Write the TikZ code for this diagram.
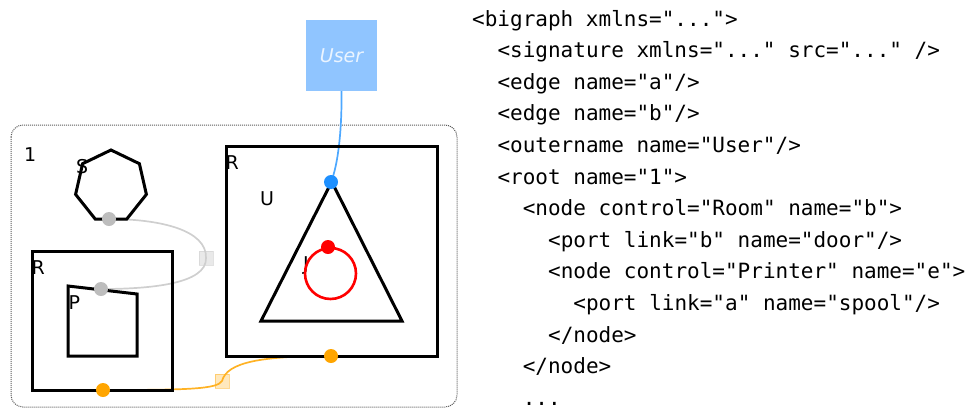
\documentclass[tikz,border=0pt]{standalone}
\usepackage{fontspec}
\setsansfont{DejaVu Sans}
\newfontfamily\codefont{DejaVu Sans Mono}

\definecolor{portgray}{HTML}{BDBDBD}
\definecolor{linkgray}{HTML}{CFCFCF}
\definecolor{portorange}{HTML}{FFA500}
\definecolor{linkorange}{HTML}{FFB224}
\definecolor{portblue}{HTML}{1E90FF}
\definecolor{linkblue}{HTML}{4DA8FF}
\definecolor{userfill}{HTML}{90C5FF}
\definecolor{usertext}{HTML}{EAF4FF}
\definecolor{rootline}{HTML}{5A5A5A}

\begin{document}
\begin{tikzpicture}[x=1pt,y=-1pt,
  room/.style={draw=black, line width=3pt, inner sep=0pt, rectangle},
  shapeline/.style={draw=black, line width=3pt},
  portdot/.style={circle, inner sep=0pt, minimum size=14pt},
  handlebox/.style={rectangle, inner sep=0pt, minimum size=14pt, line width=1pt},
  lbl/.style={font=\sffamily\fontsize{19}{22}\selectfont, inner sep=0pt, anchor=south west},
  codeline/.style={font=\codefont\fontsize{21}{25}\selectfont, anchor=base west, inner sep=0pt},
  linkline/.style={line width=1.7pt}]

\useasboundingbox (0,0) rectangle (973,410);

% root region
\draw[rootline, line width=1pt, dash pattern=on 1pt off 1pt, rounded corners=12pt]
  (11,125) rectangle (457,407);
\node[lbl] (root) at (24,162) {1};

% links (drawn underneath the controls)
\node[handlebox, fill=linkgray, fill opacity=0.45, draw=linkgray, draw opacity=0.6] (hgray) at (206,258) {};
\node[handlebox, fill=linkorange, fill opacity=0.3, draw=linkorange, draw opacity=0.5] (horange) at (222,381) {};

\coordinate (sportc) at (109,219);
\coordinate (pportc) at (101,289);
\coordinate (oleftc) at (103,390);
\coordinate (orightc) at (331,356);
\coordinate (bportc) at (331,182);

\draw[linkline, linkgray] (sportc) .. controls (160,219) and (207,230) .. (hgray.center)
  .. controls (207,284) and (150,289) .. (pportc);
\draw[linkline, linkorange] (oleftc) .. controls (190,390) and (217,389) .. (horange.center)
  .. controls (227,362) and (262,356) .. (orightc);

% outer name
\node[rectangle, fill=userfill, minimum size=71pt, inner sep=0pt,
      font=\sffamily\itshape\fontsize{19}{22}\selectfont, text=usertext] (user) at (341.5,55.5) {User};
\draw[linkline, linkblue] (bportc) .. controls (338,165) and (342,130) .. (user.south);

% control S (heptagon)
\node[lbl] (slabel) at (76,174) {S};
\draw[shapeline] (111,150) -- (139.4,163.7) -- (146.4,194.4) -- (126.8,219) -- (95.2,219)
  -- (75.6,194.4) -- (82.6,163.7) -- cycle;

% left room with printer
\node[room, minimum width=140pt, minimum height=139pt] (roomL) at (102,320.5) {};
\node[lbl] (rlabelL) at (31.5,275) {R};
\draw[shapeline] (68,286) -- (137,294) -- (137,356) -- (68,356) -- cycle;
\node[lbl] (plabel) at (68.5,310) {P};

% right room with user device
\node[room, minimum width=211pt, minimum height=210pt] (roomR) at (331.5,251) {};
\node[lbl] (rlabelR) at (225.5,170) {R};
\draw[shapeline] (331.7,181.7) -- (402,321) -- (261,321) -- cycle;
\node[lbl] (ulabel) at (260,206) {U};
\node[font=\sffamily\fontsize{19}{22}\selectfont, inner sep=0pt, anchor=base west] (jlabel) at (303,270) {J};
\node[circle, draw=red, line width=2.6pt, minimum size=51pt, inner sep=0pt] (jring) at (330.5,273.5) {};

% ports
\node[portdot, fill=portgray] (sport) at (sportc) {};
\node[portdot, fill=portgray] (pport) at (pportc) {};
\node[portdot, fill=portorange] (oleft) at (oleftc) {};
\node[portdot, fill=portorange] (oright) at (orightc) {};
\node[portdot, fill=portblue] (bport) at (bportc) {};
\node[portdot, fill=red] (rport) at (328,247) {};

% XML listing
\node[codeline] (c1)  at (472,26)    {<bigraph xmlns="...">};
\node[codeline] (c2)  at (497.3,57.6)  {<signature xmlns="..." src="..." />};
\node[codeline] (c3)  at (497.3,89.2)  {<edge name="a"/>};
\node[codeline] (c4)  at (497.3,120.8) {<edge name="b"/>};
\node[codeline] (c5)  at (497.3,152.4) {<outername name="User"/>};
\node[codeline] (c6)  at (497.3,184)   {<root name="1">};
\node[codeline] (c7)  at (522.6,215.6) {<node control="Room" name="b">};
\node[codeline] (c8)  at (547.9,247.2) {<port link="b" name="door"/>};
\node[codeline] (c9)  at (547.9,278.8) {<node control="Printer" name="e">};
\node[codeline] (c10) at (573.2,310.4) {<port link="a" name="spool"/>};
\node[codeline] (c11) at (547.9,342)   {</node>};
\node[codeline] (c12) at (522.6,373.6) {</node>};
\node[codeline] (c13) at (522.6,405.2) {...};
\end{tikzpicture}
\end{document}
